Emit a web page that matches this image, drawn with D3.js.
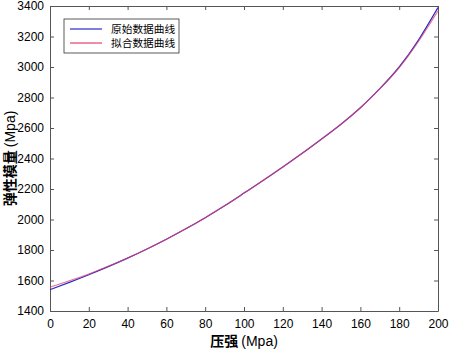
<!DOCTYPE html>
<html>
<head>
<meta charset="utf-8">
<script src="https://cdn.jsdelivr.net/npm/d3@7"></script>
<style>
  body { margin: 0; background: #fff; }
  .axis text { font-family: "Liberation Sans", Arial, sans-serif; font-size: 12px; fill: #000; }
  .axis path, .axis line { stroke: #555; }
  .legend-label { font-family: "Noto Sans CJK SC", sans-serif; font-size: 10.7px; }
</style>
</head>
<body>
<svg id="chart"></svg>
<script>
// pressure (Mpa)
const pressure = [0, 10, 20, 30, 40, 50, 60, 70, 80, 90, 100, 110, 120, 130, 140, 150, 160, 170, 180, 190, 200];
// original data curve
const original = [1540, 1588, 1638, 1691, 1747, 1807, 1871, 1939, 2012, 2090, 2173, 2257, 2344, 2434, 2528, 2625, 2733, 2858, 3000, 3178, 3390];
// fitted data curve
const fitted = [1556, 1598, 1643, 1693, 1748, 1807, 1871, 1939, 2012, 2090, 2173, 2257, 2344, 2434, 2528, 2625, 2733, 2857, 2996, 3169, 3368];
const xTicks = [0, 20, 40, 60, 80, 100, 120, 140, 160, 180, 200];
const yTicks = [1400, 1600, 1800, 2000, 2200, 2400, 2600, 2800, 3000, 3200, 3400];
const seriesNames = ['原始数据曲线', '拟合数据曲线'];

const W = 449, H = 350;
const margin = {top: 6, right: 11, bottom: 39, left: 50};
const width = W - margin.left - margin.right;
const height = H - margin.top - margin.bottom;

const svg = d3.select('#chart').attr('width', W).attr('height', H);
const chart = svg.append('g').attr('transform', `translate(${margin.left},${margin.top})`);

const x = d3.scaleLinear().domain([0, 200]).range([0, width]);
const y = d3.scaleLinear().domain([1400, 3400]).range([height, 0]);
const fmt = d3.format('d');

// axes (ticks pointing inward, box on all sides)
chart.append('g').attr('class', 'axis')
    .attr('transform', `translate(0,${height})`)
    .call(d3.axisBottom(x).tickValues(xTicks).tickFormat(fmt).tickSizeInner(-4).tickSizeOuter(0).tickPadding(8));
chart.append('g').attr('class', 'axis')
    .call(d3.axisLeft(y).tickValues(yTicks).tickFormat(fmt).tickSizeInner(-4).tickSizeOuter(0).tickPadding(6));
chart.append('g').attr('class', 'axis')
    .call(d3.axisTop(x).tickValues(xTicks).tickSizeInner(-4).tickSizeOuter(0).tickFormat(''));
chart.append('g').attr('class', 'axis')
    .attr('transform', `translate(${width},0)`)
    .call(d3.axisRight(y).tickValues(yTicks).tickSizeInner(-4).tickSizeOuter(0).tickFormat(''));

const line = d3.line().curve(d3.curveNatural)
    .x((d, i) => x(pressure[i]))
    .y(d => y(d));

const colors = ['#2a2ac8', '#e4406c'];

chart.append('path').datum(original)
    .attr('fill', 'none').attr('stroke', colors[0]).attr('stroke-width', 1.2)
    .attr('d', line);
chart.append('path').datum(fitted)
    .attr('fill', 'none').attr('stroke', colors[1]).attr('stroke-width', 1.2)
    .attr('stroke-opacity', 0.75)
    .attr('d', line);

// legend
const legend = chart.append('g').attr('transform', 'translate(14,13)');
legend.append('rect')
    .attr('width', 115).attr('height', 34)
    .attr('fill', '#fff').attr('stroke', '#333').attr('stroke-width', 0.8);
seriesNames.forEach((name, i) => {
  const ly = 10 + i * 14;
  legend.append('line')
      .attr('x1', 6).attr('x2', 38).attr('y1', ly).attr('y2', ly)
      .attr('stroke', colors[i]).attr('stroke-width', 1.2);
  legend.append('text').attr('class', 'legend-label')
      .attr('x', 47).attr('y', ly + 4)
      .text(name);
});

// axis labels
svg.append('text')
    .attr('x', margin.left + width / 2).attr('y', H - 4)
    .attr('text-anchor', 'middle')
    .style('font-family', '"Noto Sans CJK SC", sans-serif')
    .style('font-size', '14px')
    .html('<tspan font-weight="bold">压强</tspan> <tspan font-family="Liberation Sans">(Mpa)</tspan>');

svg.append('text')
    .attr('transform', `translate(15,${margin.top + height / 2}) rotate(-90)`)
    .attr('text-anchor', 'middle')
    .style('font-family', '"Noto Sans CJK SC", sans-serif')
    .style('font-size', '14px')
    .html('<tspan font-weight="bold">弹性模量</tspan> <tspan font-family="Liberation Sans">(Mpa)</tspan>');
</script>
</body>
</html>
